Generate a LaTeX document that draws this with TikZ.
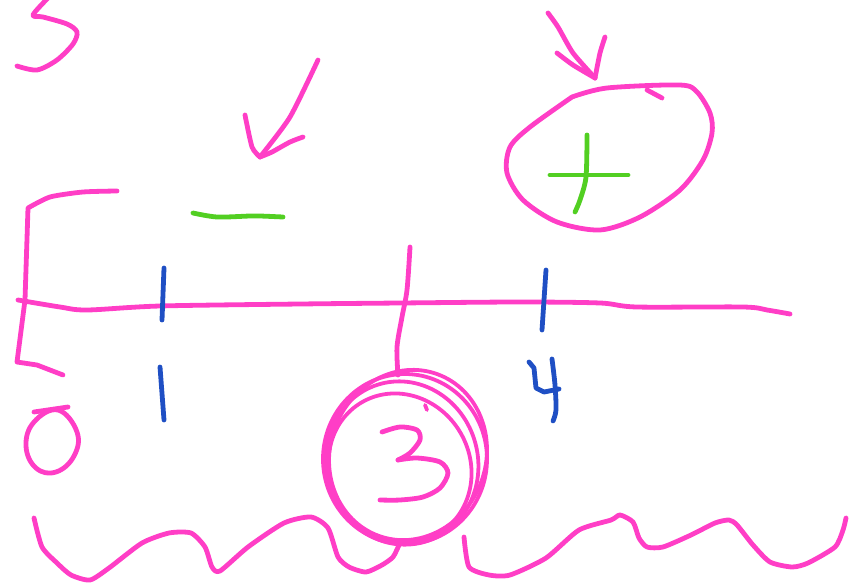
\documentclass[tikz,border=0pt]{standalone}
\begin{document}
\begin{tikzpicture}[x=1pt,y=-1pt,
  pen/.style={line width=4.8pt,line cap=round,line join=round},
  pinkpen/.style={pen,draw=inkpink},
  bluepen/.style={pen,draw=inkblue},
  greenpen/.style={pen,draw=inkgreen}]
\definecolor{inkpink}{HTML}{FF3EC6}
\definecolor{inkblue}{HTML}{1F4FC4}
\definecolor{inkgreen}{HTML}{52CF22}
\useasboundingbox (0,0) rectangle (856,586);
% partial 5
\draw[pinkpen] plot[smooth,tension=0.5] coordinates {(48,-2) (33,15) (43,17) (67,24) (77,32) (73,44) (57,60) (37,70) (17,66)};
% bracket
\draw[pinkpen] plot[smooth,tension=0.4] coordinates {(117,191) (83,192) (50,197) (28,208)} -- (25,300) -- (17,362) -- (37,365) -- (63,375);
% number line
\draw[pinkpen] plot[smooth,tension=0.5] coordinates {(18,300) (60,307) (87,310) (160,306) (300,304) (400,303) (520,302) (600,303) (637,307) (743,307) (767,310) (790,314)};
% blue ticks and numbers
\draw[bluepen] (164,268) -- (162,320);
\draw[bluepen] (160,367) -- (164,420);
\draw[bluepen] (546,270) -- (542,330);
\draw[bluepen] (529,362) -- (534,368) -- (536,388) -- (544,392) -- (559,389);
\draw[bluepen] plot[smooth,tension=0.5] coordinates {(552,359) (555,385) (556,410) (553,421)};
% 0
\draw[pinkpen] (34,412) -- (68,407);
\draw[pinkpen] plot[smooth cycle,tension=0.7] coordinates {(58,410) (77,432) (74,456) (56,472) (36,468) (26,446) (34,422)};
% vertical line down to circle
\draw[pinkpen] plot[smooth,tension=0.5] coordinates {(410,247) (407,290) (402,317) (397,347) (398,375)};
% circled 3
\draw[pinkpen,line width=3.8pt] (405,459) ellipse [x radius=82,y radius=85];
\draw[pinkpen,line width=3.8pt,rotate around={15:(402,463)}] (402,463) ellipse [x radius=76,y radius=82];
\draw[pinkpen,line width=3.8pt,rotate around={-20:(408,455)}] (408,455) ellipse [x radius=78,y radius=86];
\draw[pinkpen,line width=3.8pt,rotate around={30:(400,468)}] (400,468) ellipse [x radius=70,y radius=76];
\draw[pinkpen,line width=3.8pt] (425,405) -- (427,410);
\draw[pinkpen] plot[smooth,tension=0.5] coordinates {(382,432) (400,427) (417,430) (420,440) (410,453) (398,460)};
\draw[pinkpen] plot[smooth,tension=0.5] coordinates {(398,460) (417,458) (440,462) (448,473) (440,488) (423,497) (400,500) (380,500)};
% waves
\draw[pinkpen] plot[smooth,tension=0.4] coordinates {(34,518) (42,547) (57,563) (71,575) (90,580) (109,568) (142,543) (169,533) (191,533) (205,547) (212,567) (220,571) (248,547) (284,523) (311,517) (328,528) (338,557) (349,567) (366,572) (382,565) (393,557) (399,545)};
\draw[pinkpen] plot[smooth,tension=0.4] coordinates {(464,537) (469,567) (489,575) (510,575) (546,558) (579,530) (611,520) (620,515) (633,522) (639,538) (647,547) (663,547) (691,535) (715,523) (729,520) (737,525) (753,545) (770,562) (792,567) (808,563) (835,547) (843,530) (846,518)};
% green minus
\draw[greenpen] plot[smooth,tension=0.5] coordinates {(193,213) (217,217) (250,216) (260,216) (283,217)};
% left arrow
\draw[pinkpen] plot[smooth,tension=0.4] coordinates {(318,60) (290,117) (260,157)};
\draw[pinkpen] plot[smooth,tension=0.4] coordinates {(245,115) (252,147) (260,157)};
\draw[pinkpen] plot[smooth,tension=0.4] coordinates {(303,137) (290,142) (272,152) (260,157)};
% right arrow
\draw[pinkpen] plot[smooth,tension=0.4] coordinates {(548,13) (558,27) (573,53) (595,78)};
\draw[pinkpen] plot[smooth,tension=0.4] coordinates {(557,53) (573,65) (595,78)};
\draw[pinkpen] plot[smooth,tension=0.4] coordinates {(605,37) (600,53) (595,78)};
% ellipse around plus
\draw[pinkpen] plot[smooth,tension=0.5] coordinates {(572,97) (607,88) (680,85) (697,92) (710,113) (712,133) (703,160) (680,190) (640,217) (600,230) (557,222) (523,200) (507,173) (510,147) (530,127) (572,97)};
\draw[pinkpen] (647,90) -- (662,98);
% green plus
\draw[greenpen] (550,175) -- (628,175);
\draw[greenpen] plot[smooth,tension=0.5] coordinates {(587,135) (586,177) (580,200) (575,212)};
\end{tikzpicture}
\end{document}
